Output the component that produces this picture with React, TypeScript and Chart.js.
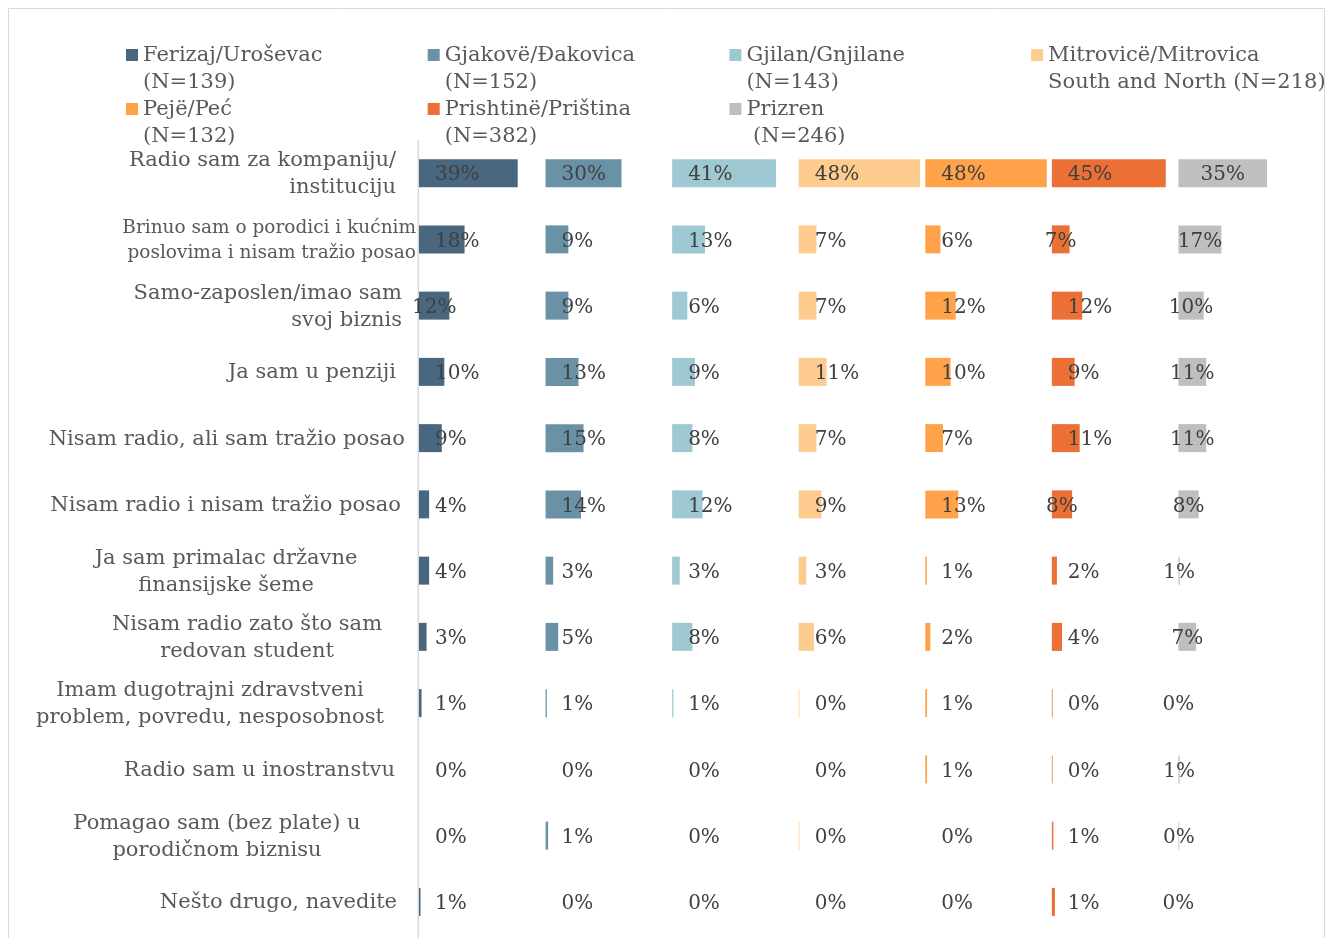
import React, { useEffect, useRef } from "react";
import { Chart, registerables } from "chart.js";

Chart.register(...registerables);

// ---------- DATA ----------
const categories: string[][] = [
  ["Radio sam za kompaniju/", "instituciju"],
  ["Brinuo sam o porodici i kućnim", "poslovima i nisam tražio posao"],
  ["Samo-zaposlen/imao sam", "svoj biznis"],
  ["Ja sam u penziji"],
  ["Nisam radio, ali sam tražio posao"],
  ["Nisam radio i nisam tražio posao"],
  ["Ja sam primalac državne", "finansijske šeme"],
  ["Nisam radio zato što sam", "redovan student"],
  ["Imam dugotrajni zdravstveni", "problem, povredu, nesposobnost"],
  ["Radio sam u inostranstvu"],
  ["Pomagao sam (bez plate) u", "porodičnom biznisu"],
  ["Nešto drugo, navedite"],
];

const cityNames = [
  "Ferizaj/Uroševac",
  "Gjakovë/Đakovica",
  "Gjilan/Gnjilane",
  "Mitrovicë/Mitrovica",
  "Pejë/Peć",
  "Prishtinë/Priština",
  "Prizren",
];
const citySecondLine = [
  "(N=139)",
  "(N=152)",
  "(N=143)",
  "South and North (N=218)",
  "(N=132)",
  "(N=382)",
  " (N=246)",
];

const ferizaj = [39, 18, 12, 10, 9, 4, 4, 3, 1, 0, 0, 0.6];
const gjakove = [30, 9, 9, 13, 15, 14, 3, 5, 0.5, 0, 1, 0];
const gjilan = [41, 13, 6, 9, 8, 12, 3, 8, 0.5, 0, 0, 0];
const mitrovice = [48, 7, 7, 11, 7, 9, 3, 6, 0.3, 0, 0.3, 0];
const peje = [48, 6, 12, 10, 7, 13, 0.6, 2, 0.7, 0.7, 0, 0];
const prishtine = [45, 7, 12, 9, 11, 8, 2, 4, 0.3, 0.3, 0.6, 1.2];
const prizren = [35, 17, 10, 11, 11, 8, 0.5, 7, 0, 0.5, 0.3, 0];

const seriesValues = [ferizaj, gjakove, gjilan, mitrovice, peje, prishtine, prizren];

// ---------- STYLE ----------
const colors = ["#4A6780", "#6A92A6", "#9EC8D2", "#FFCC90", "#FFA24A", "#EC6F36", "#BFBFBF"];
const PANEL_MAX = 50;
const FONT = "'DejaVu Serif', Georgia, serif";
const TEXT_GREY = "#595959";
const LABEL_DARK = "#404040";

// category label layout: align + anchor x (canvas px)
const catLayout: { align: "right" | "center"; x: number; size: number; lh: number }[] = [
  { align: "right", x: 388, size: 21, lh: 27 },
  { align: "right", x: 408, size: 18.5, lh: 25 },
  { align: "right", x: 394, size: 21, lh: 27 },
  { align: "right", x: 388, size: 21, lh: 27 },
  { align: "right", x: 397, size: 21, lh: 27 },
  { align: "right", x: 393, size: 21, lh: 27 },
  { align: "center", x: 218, size: 21, lh: 27 },
  { align: "center", x: 239, size: 21, lh: 27 },
  { align: "center", x: 202, size: 21, lh: 27 },
  { align: "right", x: 387, size: 21, lh: 27 },
  { align: "center", x: 209, size: 21, lh: 27 },
  { align: "right", x: 389, size: 21, lh: 27 },
];
// label cells drawn centred on the bar (as in the source)
const centeredCities = [6];
const centeredCells: [number, number][] = [
  [0, 2],
  [5, 1],
  [5, 5],
];

const W = 1317;
const H = 930;

const decorPlugin = {
  id: "decor",
  beforeDraw(chart: any) {
    const ctx = chart.ctx as CanvasRenderingContext2D;
    const area = chart.chartArea;
    ctx.save();
    // border
    ctx.strokeStyle = "#D9D9D9";
    ctx.lineWidth = 1;
    ctx.beginPath();
    ctx.moveTo(0.5, H);
    ctx.lineTo(0.5, 0.5);
    ctx.lineTo(W - 0.5, 0.5);
    ctx.lineTo(W - 0.5, H);
    ctx.stroke();

    // legend
    ctx.font = `21px ${FONT}`;
    ctx.textBaseline = "middle";
    ctx.textAlign = "left";
    const colStep = 301.7;
    const lineH = 27;
    cityNames.forEach((name, i) => {
      const col = i < 4 ? i : i - 4;
      const row = i < 4 ? 0 : 1;
      const mx = 118 + col * colStep;
      const y1 = 47 + row * 2 * lineH;
      ctx.fillStyle = colors[i];
      ctx.fillRect(mx, y1 - 6, 12, 12);
      ctx.fillStyle = TEXT_GREY;
      ctx.fillText(name, mx + 17, y1 + 1);
      ctx.fillText(citySecondLine[i], mx + 17, y1 + lineH + 1);
    });

    // y axis line
    ctx.strokeStyle = "#D9D9D9";
    ctx.lineWidth = 1.5;
    ctx.beginPath();
    ctx.moveTo(area.left - 0.75, area.top);
    ctx.lineTo(area.left - 0.75, H);
    ctx.stroke();

    // category labels
    const yScale = chart.scales.y;
    categories.forEach((lines, i) => {
      const lay = catLayout[i];
      ctx.font = `${lay.size}px ${FONT}`;
      ctx.fillStyle = TEXT_GREY;
      ctx.textAlign = lay.align;
      const yc = yScale.getPixelForValue(i) + 1;
      const y0 = yc - ((lines.length - 1) * lay.lh) / 2;
      lines.forEach((ln, j) => ctx.fillText(ln, lay.x, y0 + j * lay.lh));
    });
    ctx.restore();
  },
  afterDatasetsDraw(chart: any) {
    const ctx = chart.ctx as CanvasRenderingContext2D;
    ctx.save();
    ctx.font = `20px ${FONT}`;
    ctx.fillStyle = LABEL_DARK;
    ctx.textBaseline = "middle";
    chart.data.datasets.forEach((ds: any, di: number) => {
      if (ds.cityIndex === undefined) return;
      const ci = ds.cityIndex;
      const meta = chart.getDatasetMeta(di);
      meta.data.forEach((bar: any, ri: number) => {
        const v = seriesValues[ci][ri];
        const txt = `${Math.round(v)}%`;
        const centred =
          centeredCities.includes(ci) || centeredCells.some(([c, r]) => c === ci && r === ri);
        const base = Math.min(bar.base, bar.x);
        const end = Math.max(bar.base, bar.x);
        if (centred) {
          ctx.textAlign = "center";
          ctx.fillText(txt, (base + end) / 2, bar.y + 2);
        } else {
          ctx.textAlign = "left";
          ctx.fillText(txt, base + 16, bar.y + 2);
        }
      });
    });
    ctx.restore();
  },
};

export default function App() {
  const ref = useRef<HTMLCanvasElement | null>(null);
  useEffect(() => {
    if (!ref.current) return;
    const datasets: any[] = [];
    seriesValues.forEach((vals, i) => {
      datasets.push({
        label: cityNames[i],
        data: vals,
        backgroundColor: colors[i],
        borderWidth: 0,
        inflateAmount: 0,
        stack: "s",
        barThickness: 28,
        cityIndex: i,
      });
      if (i < seriesValues.length - 1) {
        datasets.push({
          label: "spacer" + i,
          data: vals.map((v) => PANEL_MAX - v),
          backgroundColor: "rgba(0,0,0,0)",
          borderWidth: 0,
          inflateAmount: 0,
          stack: "s",
          barThickness: 28,
        });
      }
    });
    const chart = new Chart(ref.current, {
      type: "bar",
      data: { labels: categories.map((c) => c.join(" ")), datasets },
      options: {
        indexAxis: "y",
        responsive: false,
        animation: false,
        layout: { padding: { left: 411, right: 20, top: 132, bottom: 3 } },
        scales: {
          x: { stacked: true, min: 0, max: PANEL_MAX * seriesValues.length, display: false },
          y: { stacked: true, display: false },
        },
        plugins: { legend: { display: false }, tooltip: { enabled: false } },
      },
      plugins: [decorPlugin],
    } as any);
    return () => chart.destroy();
  }, []);
  return <canvas ref={ref} width={W} height={H} style={{ display: "block", width: W, height: H }} />;
}
